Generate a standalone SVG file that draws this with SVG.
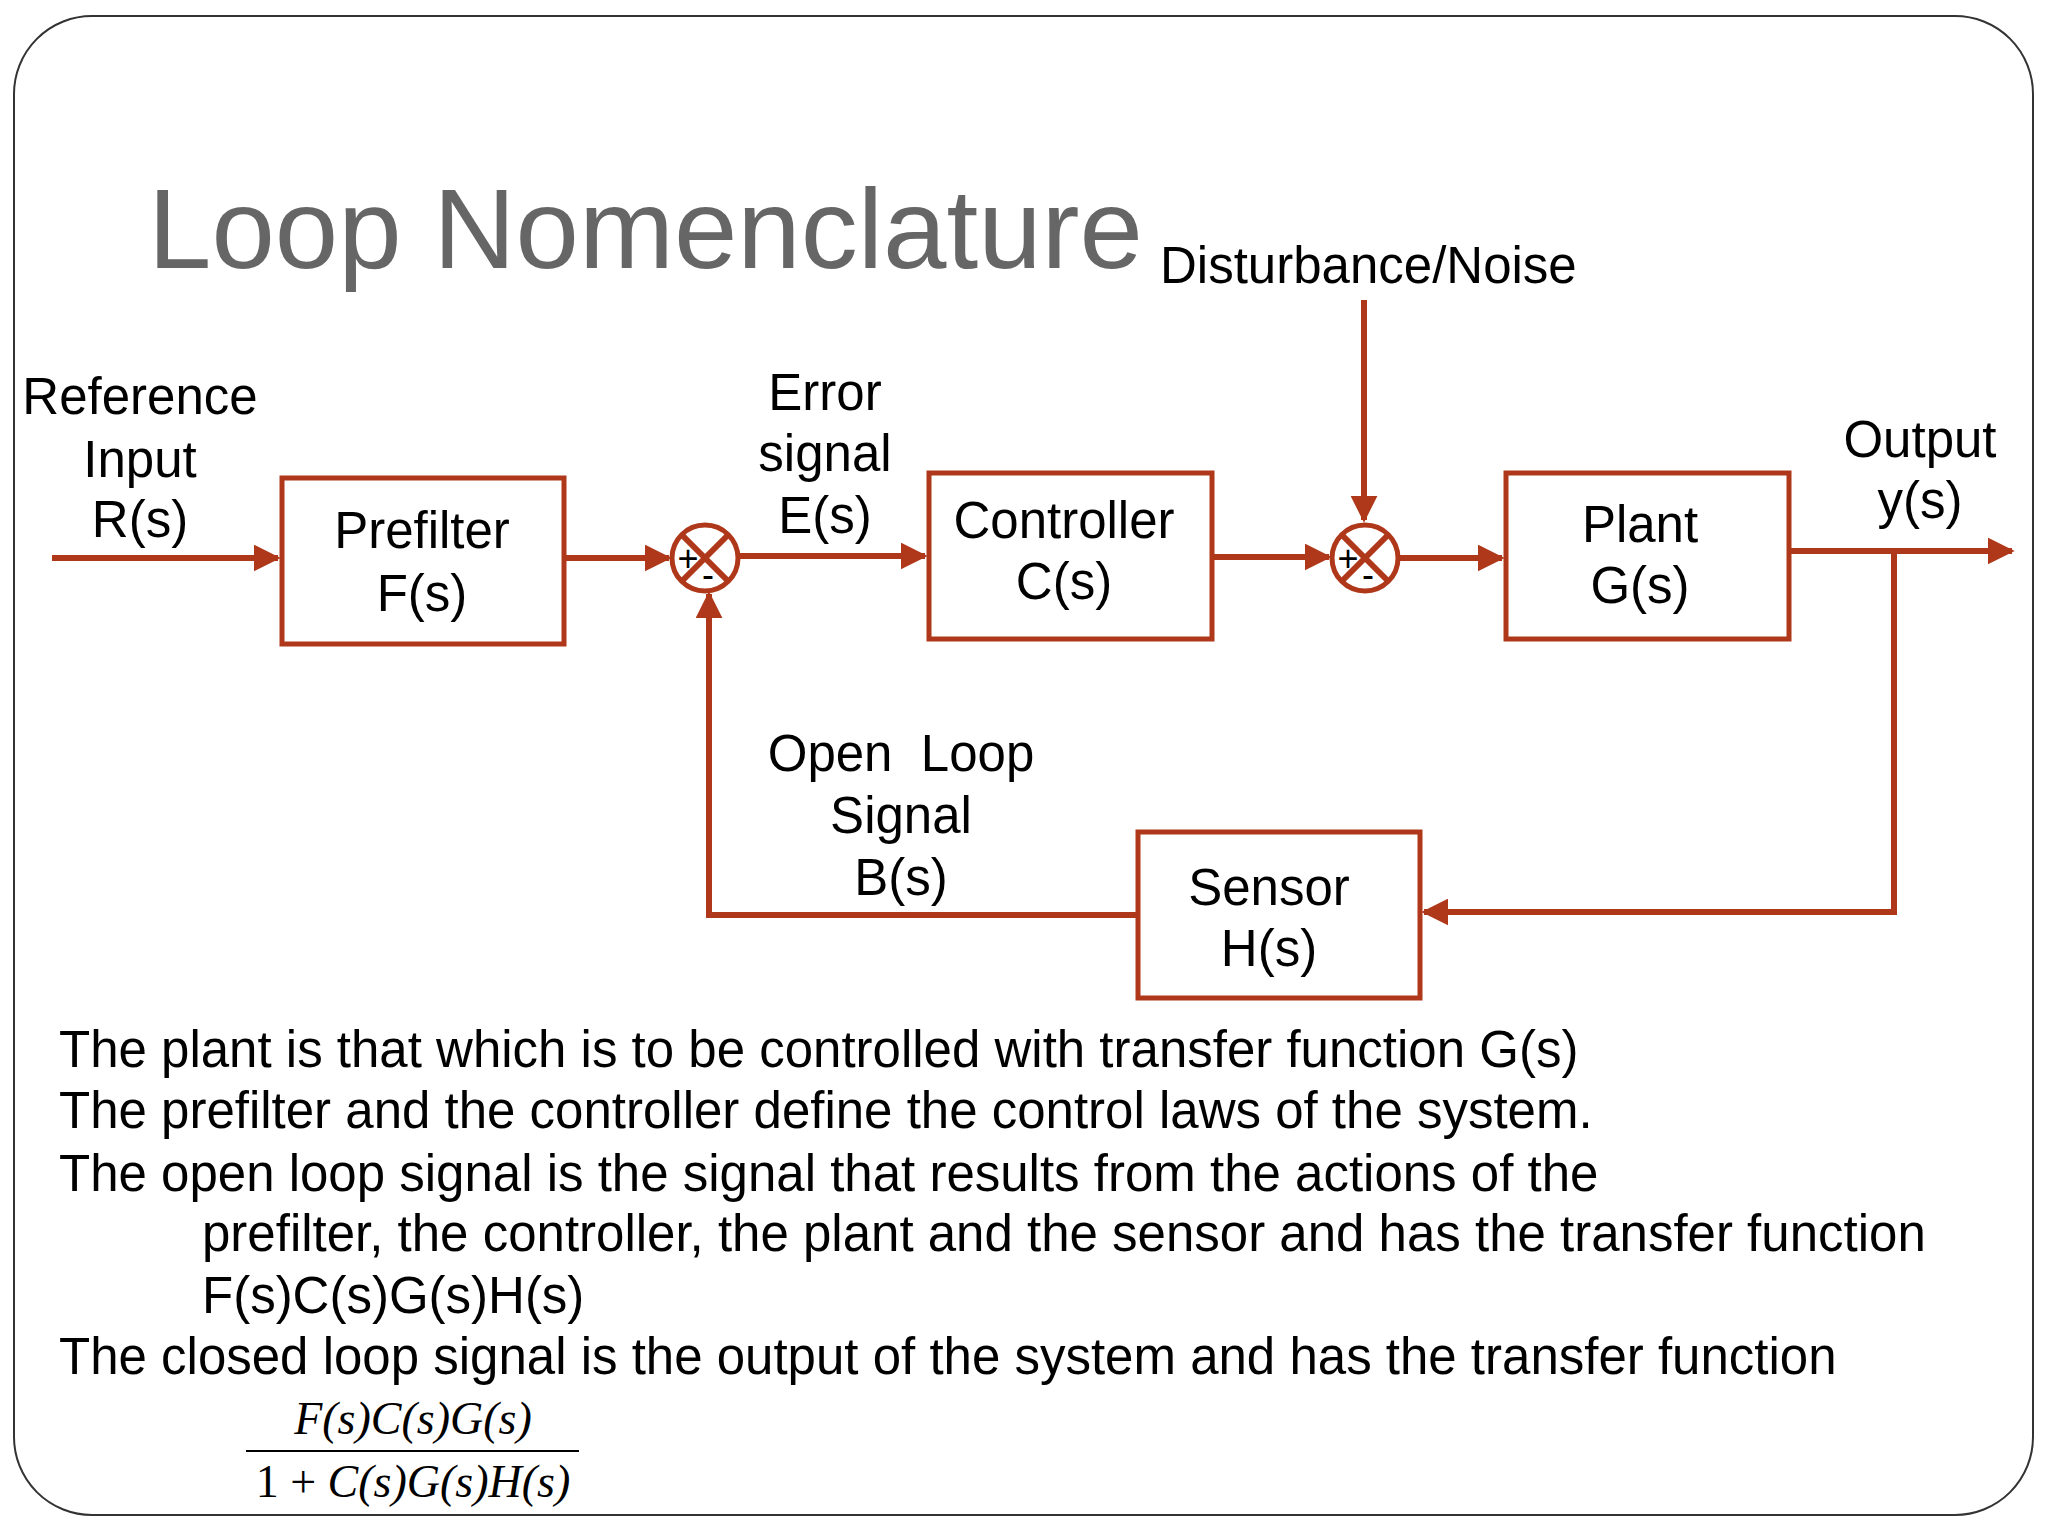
<svg xmlns="http://www.w3.org/2000/svg" width="2048" height="1536" viewBox="0 0 2048 1536">
<defs>
<style>
.t{font-family:"Liberation Sans",Arial,sans-serif;font-size:51px;fill:#000}
.c{text-anchor:middle}
.box{fill:#fff;stroke:#B0381A;stroke-width:5}
.ln{fill:none;stroke:#B0381A;stroke-width:6}
.m{font-family:"Liberation Serif","Times New Roman",serif;font-size:46px;font-style:italic;text-anchor:middle}
</style>
<marker id="a" viewBox="0 0 10 10" refX="9" refY="5" markerWidth="4.5" markerHeight="4.5" orient="auto" markerUnits="strokeWidth"><path d="M0,0L10,5L0,10z" fill="#B0381A"/></marker>
</defs>
<rect x="14" y="16" width="2019" height="1499" rx="78" fill="#fff" stroke="#333" stroke-width="2"/>
<text x="148" y="268" font-family="Liberation Sans,Arial,sans-serif" font-size="114" fill="#666">Loop Nomenclature</text>
<g id="connectors">
<path class="ln" d="M52,558H278" marker-end="url(#a)"/>
<path class="ln" d="M564,558H669" marker-end="url(#a)"/>
<path class="ln" d="M739,556H925" marker-end="url(#a)"/>
<path class="ln" d="M1212,557H1329" marker-end="url(#a)"/>
<path class="ln" d="M1399,558H1502" marker-end="url(#a)"/>
<path class="ln" d="M1364,300V520" marker-end="url(#a)"/>
<path class="ln" d="M1789,551H2012" marker-end="url(#a)"/>
<path class="ln" d="M1894,551V912H1424" marker-end="url(#a)"/>
<path class="ln" d="M1138,915H709V594" marker-end="url(#a)"/>
</g>
<g id="sum1"><circle cx="705" cy="558" r="33" fill="#fff" stroke="#B0381A" stroke-width="5"/><path class="ln" d="M682,535L728,581M728,535L682,581" stroke-width="5"/><text x="688" y="571" font-family="Liberation Sans,Arial,sans-serif" font-size="36" text-anchor="middle">+</text><text x="708" y="587" font-family="Liberation Sans,Arial,sans-serif" font-size="36" text-anchor="middle">-</text></g>
<g id="sum2"><circle cx="1365" cy="558" r="33" fill="#fff" stroke="#B0381A" stroke-width="5"/><path class="ln" d="M1342,535L1388,581M1388,535L1342,581" stroke-width="5"/><text x="1348" y="571" font-family="Liberation Sans,Arial,sans-serif" font-size="36" text-anchor="middle">+</text><text x="1368" y="587" font-family="Liberation Sans,Arial,sans-serif" font-size="36" text-anchor="middle">-</text></g>
<g id="prefilter"><rect class="box" x="282" y="478" width="282" height="166"/><text class="t c" x="422" y="548">Prefilter</text><text class="t c" x="422" y="611">F(s)</text></g>
<g id="controller"><rect class="box" x="929" y="473" width="283" height="166"/><text class="t c" x="1064" y="538">Controller</text><text class="t c" x="1064" y="599">C(s)</text></g>
<g id="plant"><rect class="box" x="1506" y="473" width="283" height="166"/><text class="t c" x="1640" y="542">Plant</text><text class="t c" x="1640" y="603">G(s)</text></g>
<g id="sensor"><rect class="box" x="1138" y="832" width="282" height="166"/><text class="t c" x="1269" y="905">Sensor</text><text class="t c" x="1269" y="966">H(s)</text></g>
<g id="labels">
<text class="t" x="1160" y="283">Disturbance/Noise</text>
<text class="t c" x="140" y="414">Reference</text><text class="t c" x="140" y="477">Input</text><text class="t c" x="140" y="537">R(s)</text>
<text class="t c" x="825" y="410">Error</text><text class="t c" x="825" y="471">signal</text><text class="t c" x="825" y="533">E(s)</text>
<text class="t c" x="1920" y="457">Output</text><text class="t c" x="1920" y="518">y(s)</text>
<text class="t c" x="901" y="771" xml:space="preserve">Open  Loop</text><text class="t c" x="901" y="833">Signal</text><text class="t c" x="901" y="895">B(s)</text>
</g>
<g id="notes">
<text class="t" x="59" y="1067">The plant is that which is to be controlled with transfer function G(s)</text>
<text class="t" x="59" y="1128">The prefilter and the controller define the control laws of the system.</text>
<text class="t" x="59" y="1191">The open loop signal is the signal that results from the actions of the</text>
<text class="t" x="202" y="1251">prefilter, the controller, the plant and the sensor and has the transfer function</text>
<text class="t" x="202" y="1313">F(s)C(s)G(s)H(s)</text>
<text class="t" x="59" y="1374">The closed loop signal is the output of the system and has the transfer function</text>
<text class="m" x="413" y="1434">F(s)C(s)G(s)</text>
<path d="M246,1451H579" stroke="#000" stroke-width="2"/>
<text class="m" x="413" y="1497"><tspan font-style="normal">1 + </tspan>C(s)G(s)H(s)</text>
</g>
</svg>
